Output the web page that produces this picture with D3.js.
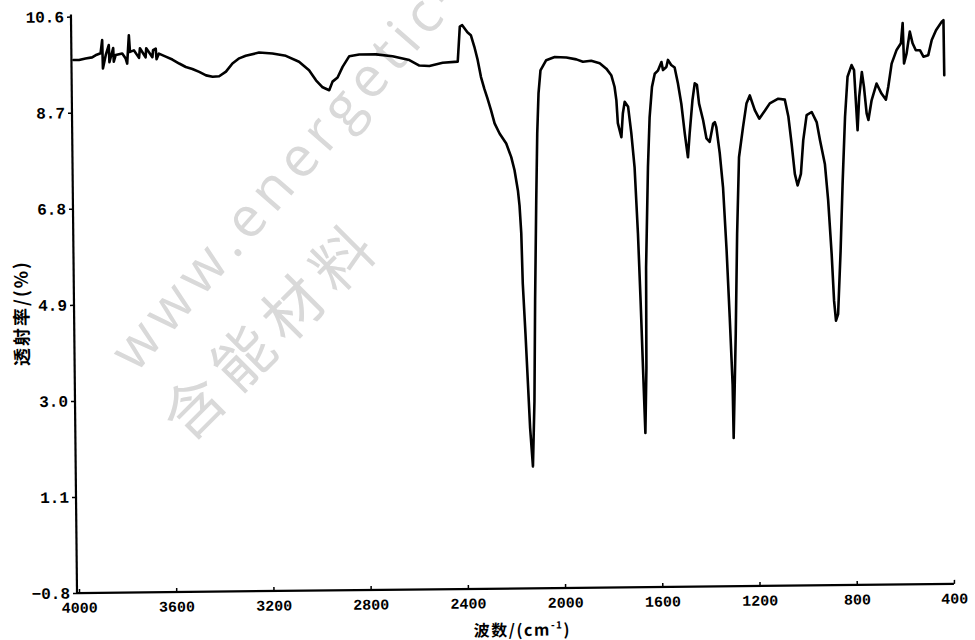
<!DOCTYPE html>
<html>
<head>
<meta charset="utf-8">
<script src="https://cdn.jsdelivr.net/npm/d3@7"></script>
<style>
  html, body { margin: 0; padding: 0; background: #fff; }
  svg { display: block; }
</style>
</head>
<body>
<svg id="chart" width="975" height="640"></svg>
<script>
// ---- data (wavenumber in cm^-1, transmittance in %) ----
const wavenumber = [
  4000, 3977, 3950, 3923, 3909, 3888, 3881, 3879, 3867, 3854, 3852, 3836, 3834, 3826, 3799, 3785,
  3779, 3771, 3767, 3751, 3730, 3726, 3703, 3700, 3675, 3672, 3661, 3658, 3648, 3620, 3593, 3565,
  3538, 3511, 3483, 3455, 3428,
  3401, 3373, 3346, 3318, 3291, 3236, 3181, 3126, 3072, 3031, 3003, 2976, 2949, 2935, 2914, 2893,
  2865, 2824, 2755, 2687, 2618, 2577, 2536, 2481, 2419, 2409, 2399, 2378, 2364, 2350, 2337, 2324,
  2311, 2298, 2284, 2270, 2250, 2223, 2203, 2190, 2177, 2171, 2165, 2161, 2152, 2144, 2137, 2127,
  2118, 2111, 2102, 2095, 2088, 2079, 2055, 2020, 1972, 1931, 1904, 1870, 1835, 1808, 1788, 1775,
  1768, 1763, 1749, 1742, 1734, 1720, 1708, 1696, 1685, 1677, 1670, 1663, 1656, 1653, 1641, 1632,
  1621, 1609, 1596, 1581, 1575, 1561, 1554, 1541, 1527, 1514, 1501, 1488, 1476, 1468, 1455, 1445,
  1436, 1428, 1412, 1399, 1386, 1371, 1364, 1358, 1345, 1333, 1321, 1311, 1302, 1300, 1287, 1277,
  1266, 1248, 1233, 1219, 1199, 1181, 1157, 1137, 1102, 1075, 1061, 1049, 1037, 1026, 1012, 1001,
  986, 965, 945, 932, 913, 901, 889, 881, 874, 865, 852, 841, 828, 816, 799, 789,
  783, 777, 769, 757, 749, 739, 732, 718, 697, 677, 659, 649, 634, 613, 595, 587,
  583, 572, 558, 547, 534, 517, 503, 483, 468, 450, 426, 419, 418
];
const transmittance = [
  9.74, 9.74, 9.77, 9.79, 9.83, 9.87, 10.13, 9.57, 9.83, 10.03, 9.69, 9.97, 9.70, 9.83, 9.86, 9.76,
  9.66, 10.22, 9.89, 9.92, 9.77, 9.96, 9.78, 9.96, 9.78, 9.92, 9.95, 9.74, 9.85, 9.79, 9.73, 9.65,
  9.58, 9.54, 9.48, 9.41, 9.38,
  9.39, 9.48, 9.64, 9.74, 9.79, 9.85, 9.83, 9.78, 9.66, 9.49, 9.29, 9.15, 9.09, 9.26, 9.34, 9.55,
  9.76, 9.79, 9.79, 9.75, 9.67, 9.56, 9.55, 9.61, 9.63, 10.32, 10.35, 10.21, 10.15, 9.92, 9.66, 9.32,
  9.09, 8.89, 8.66, 8.40, 8.20, 8.00, 7.73, 7.47, 7.07, 6.77, 6.22, 5.23, 4.23, 3.24, 2.37, 1.61,
  2.90, 4.89, 6.87, 8.20, 8.99, 9.44, 9.64, 9.70, 9.69, 9.65, 9.60, 9.62, 9.57, 9.46, 9.33, 9.10,
  8.83, 8.38, 8.10, 8.57, 8.80, 8.70, 8.18, 7.50, 6.19, 4.86, 3.53, 2.25, 3.53, 5.52, 7.50, 8.49,
  9.09, 9.35, 9.41, 9.58, 9.42, 9.48, 9.62, 9.52, 9.47, 9.15, 8.75, 8.16, 7.69, 8.16, 8.82, 9.15,
  9.12, 8.75, 8.42, 8.06, 7.99, 8.35, 8.38, 8.28, 7.76, 7.09, 5.84, 4.51, 3.19, 2.13, 4.19, 6.17,
  7.68, 8.28, 8.74, 8.90, 8.61, 8.44, 8.60, 8.74, 8.83, 8.81, 8.47, 7.94, 7.34, 7.11, 7.34, 8.00,
  8.50, 8.56, 8.36, 8.00, 7.53, 6.81, 5.75, 4.82, 4.43, 4.56, 5.81, 7.13, 8.46, 9.25, 9.48, 9.38,
  8.78, 8.19, 8.85, 9.34, 9.05, 8.52, 8.39, 8.78, 9.11, 8.91, 8.79, 9.04, 9.50, 9.77, 9.90, 10.30,
  9.50, 9.70, 10.13, 9.90, 9.76, 9.76, 9.63, 9.66, 9.96, 10.15, 10.32, 10.35, 9.26
];
const xTicks = [4000, 3600, 3200, 2800, 2400, 2000, 1600, 1200, 800, 400];
const yTicks = [10.6, 8.7, 6.8, 4.9, 3.0, 1.1, -0.8];
const xTitle = "波数/(cm";
const xTitleSup = "-1";
const yTitle = "透射率/(%)";
const watermarkEn = "www.energetic-materials.org.cn";
const watermarkCn = "含能材料";

// ---- layout ----
const svg = d3.select("#chart");
const plotLeft = 74, xStart = 76, xEnd = 951, plotTop = 12, plotBottom = 588.5;

const x = d3.scaleLinear().domain([4000, 400]).range([xStart, xEnd]);
const y = d3.scaleLinear().domain([-0.8, 10.6]).range([plotBottom, plotTop]);

// watermark (light grey, diagonal)
const wm = svg.append("g").attr("fill", "#d9d9d9");
wm.append("text")
  .attr("transform", "translate(136,374) rotate(-49)")
  .attr("font-family", "'Open Sans', 'DejaVu Sans', sans-serif")
  .attr("font-size", 56)
  .attr("letter-spacing", 7)
  .text(watermarkEn);
wm.append("text")
  .attr("transform", "translate(188,444) rotate(-45)")
  .attr("font-family", "'Noto Sans CJK SC', sans-serif")
  .attr("font-size", 60)
  .attr("letter-spacing", 10)
  .text(watermarkCn);

// scanned page is slightly tilted
const g = svg.append("g").attr("transform", "rotate(-0.6, 512, 303)");

const tickFont = "'Liberation Mono', 'DejaVu Sans Mono', monospace";

// y axis
const yAxis = d3.axisLeft(y).tickValues(yTicks).tickSize(4).tickPadding(3)
  .tickFormat(d => d3.format(".1f")(d).replace("-", "\u2212"));
const gy = g.append("g").attr("transform", `translate(${plotLeft},0)`).call(yAxis);
gy.select(".domain").remove();
gy.selectAll(".tick line").attr("stroke", "#000").attr("stroke-width", 1.5);
gy.selectAll(".tick text").attr("font-family", tickFont).attr("font-weight", "bold")
  .attr("font-size", 16).attr("fill", "#000");

// x axis
const xAxis = d3.axisBottom(x).tickValues(xTicks).tickSize(-4).tickPadding(9)
  .tickFormat(d3.format("d"));
const gx = g.append("g").attr("transform", `translate(0,${plotBottom})`).call(xAxis);
gx.select(".domain").remove();
gx.selectAll(".tick line").attr("stroke", "#000").attr("stroke-width", 1.5);
gx.selectAll(".tick text").attr("font-family", tickFont).attr("font-weight", "bold")
  .attr("font-size", 15).attr("fill", "#000");

// axis frame lines (left and bottom)
g.append("line").attr("x1", plotLeft).attr("x2", plotLeft).attr("y1", y(10.6) - 2).attr("y2", plotBottom)
  .attr("stroke", "#000").attr("stroke-width", 2.2);
g.append("line").attr("x1", plotLeft).attr("x2", x(400)).attr("y1", plotBottom).attr("y2", plotBottom)
  .attr("stroke", "#000").attr("stroke-width", 2.2);

// spectrum
const pts = wavenumber.map((w, i) => [w, transmittance[i]]);
const line = d3.line().x(d => x(d[0])).y(d => y(d[1]));
g.append("path").datum(pts).attr("d", line)
  .attr("fill", "none").attr("stroke", "#000").attr("stroke-width", 2.6)
  .attr("stroke-linejoin", "round").attr("stroke-linecap", "round");

// axis titles
const xt = g.append("text").attr("x", 519).attr("y", 636).attr("text-anchor", "middle")
  .attr("font-family", "'Noto Sans CJK SC', " + tickFont).attr("font-weight", "bold")
  .attr("font-size", 16).attr("letter-spacing", 1.5).attr("fill", "#000");
xt.append("tspan").text(xTitle);
xt.append("tspan").attr("font-size", 10).attr("dy", -7).text(xTitleSup);
xt.append("tspan").attr("dy", 7).text(")");

g.append("text").attr("transform", "translate(28,308) rotate(-90)").attr("text-anchor", "middle")
  .attr("font-family", "'Noto Sans CJK SC', " + tickFont).attr("font-weight", "bold")
  .attr("font-size", 18).attr("letter-spacing", 2).attr("fill", "#000").text(yTitle);
</script>
</body>
</html>
